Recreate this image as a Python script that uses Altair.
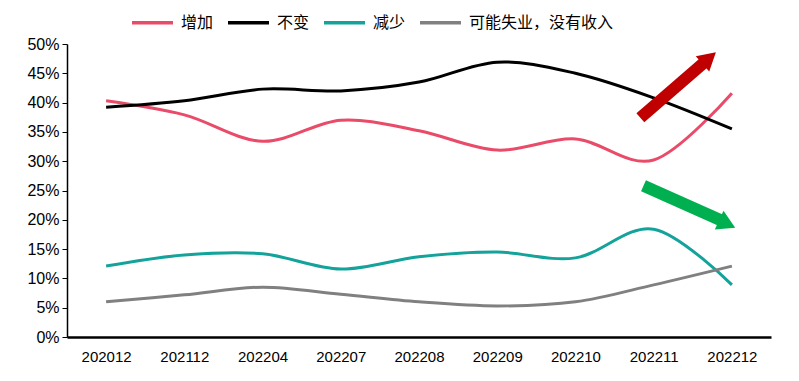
import altair as alt
import pandas as pd

periods = ["202012", "202112", "202204", "202207", "202208", "202209", "202210", "202211", "202212"]
series_names = ["增加", "不变", "减少", "可能失业，没有收入"]
increase = [40.3, 37.9, 33.4, 37.0, 35.2, 31.9, 33.8, 30.2, 41.6]
unchanged = [39.2, 40.3, 42.3, 42.0, 43.5, 46.9, 45.0, 40.8, 35.5]
decrease = [12.1, 14.0, 14.2, 11.6, 13.7, 14.5, 13.5, 18.4, 8.9]
unemployed = [6.0, 7.2, 8.5, 7.3, 6.0, 5.3, 6.0, 8.9, 12.1]
colors = ["#E94B69", "#000000", "#13A39B", "#808080"]

# arrow annotations (data coordinates: x index, y percent)
arrow_names = ["up", "down"]
arrow_x = [6.83, 6.87]
arrow_y = [37.4, 25.8]
arrow_x2 = [7.66, 7.88]
arrow_y2 = [47.0, 19.8]
head_x = [7.71, 7.94]
head_y = [47.6, 19.3]
arrow_colors = ["#C00000", "#00B050"]
head_angles = [49, 115]

rows = []
for name, vals in zip(series_names, [increase, unchanged, decrease, unemployed]):
    for i, v in enumerate(vals):
        rows.append({"idx": i, "value": v, "series": name})
df = pd.DataFrame(rows)

arr = pd.DataFrame({"name": arrow_names, "x": arrow_x, "y": arrow_y, "x2": arrow_x2, "y2": arrow_y2,
                    "hx": head_x, "hy": head_y, "color": arrow_colors, "angle": head_angles})

label_arr = "[" + ",".join(f"'{p}'" for p in periods) + "]"

xscale = alt.Scale(domain=[-0.5, 8.5], nice=False, zero=False)
yscale = alt.Scale(domain=[0, 50], nice=False)

x_axis = alt.Axis(
    values=list(range(9)), labelExpr=f"{label_arr}[datum.value]", title=None, grid=False,
    ticks=False, domainColor="#000000", domainWidth=2.5,
    labelFont="Liberation Sans", labelFontSize=15, labelColor="#000000", labelPadding=12,
    labelOverlap=False)
y_axis = alt.Axis(
    values=list(range(0, 51, 5)), labelExpr="datum.value + '%'", title=None, grid=False,
    tickColor="#000000", tickSize=5, domainColor="#000000", domainWidth=1.5,
    labelFont="Liberation Sans", labelFontSize=16, labelColor="#000000", labelPadding=3,
    labelOverlap=False)

lines = alt.Chart(df).mark_line(interpolate="cardinal", strokeWidth=3).encode(
    x=alt.X("idx:Q", scale=xscale, axis=x_axis),
    y=alt.Y("value:Q", scale=yscale, axis=y_axis),
    color=alt.Color("series:N", scale=alt.Scale(domain=series_names, range=colors),
                    sort=series_names,
                    legend=alt.Legend(title=None, orient="none", direction="horizontal",
                                      legendX=63, legendY=-44, symbolType="stroke",
                                      symbolSize=1681, symbolStrokeWidth=3.5, labelFont="Noto Sans CJK SC",
                                      labelFontSize=16, labelColor="#000000", labelOffset=6,
                                      labelLimit=400, columnPadding=7, labelBaseline="middle")),
    detail="series:N",
)

shafts = alt.Chart(arr).mark_rule(strokeWidth=12, strokeCap="butt").encode(
    x=alt.X("x:Q", scale=xscale, axis=x_axis), y=alt.Y("y:Q", scale=yscale, axis=y_axis),
    x2="x2:Q", y2="y2:Q",
    color=alt.Color("color:N", scale=None),
)
heads = alt.Chart(arr).mark_point(shape="triangle-up", filled=True, size=420, opacity=1).encode(
    x=alt.X("hx:Q", scale=xscale, axis=x_axis), y=alt.Y("hy:Q", scale=yscale, axis=y_axis),
    color=alt.Color("color:N", scale=None),
    angle=alt.Angle("angle:Q", scale=None),
)

chart = alt.layer(lines, shafts, heads).properties(
    width=704, height=293,
    background="#ffffff",
    autosize=alt.AutoSizeParams(type="none"),
    padding={"left": 59, "top": 36, "right": 20, "bottom": 30},
).configure_view(stroke=None)

chart.save("out.html", embed_options={"renderer": "svg", "actions": False})
